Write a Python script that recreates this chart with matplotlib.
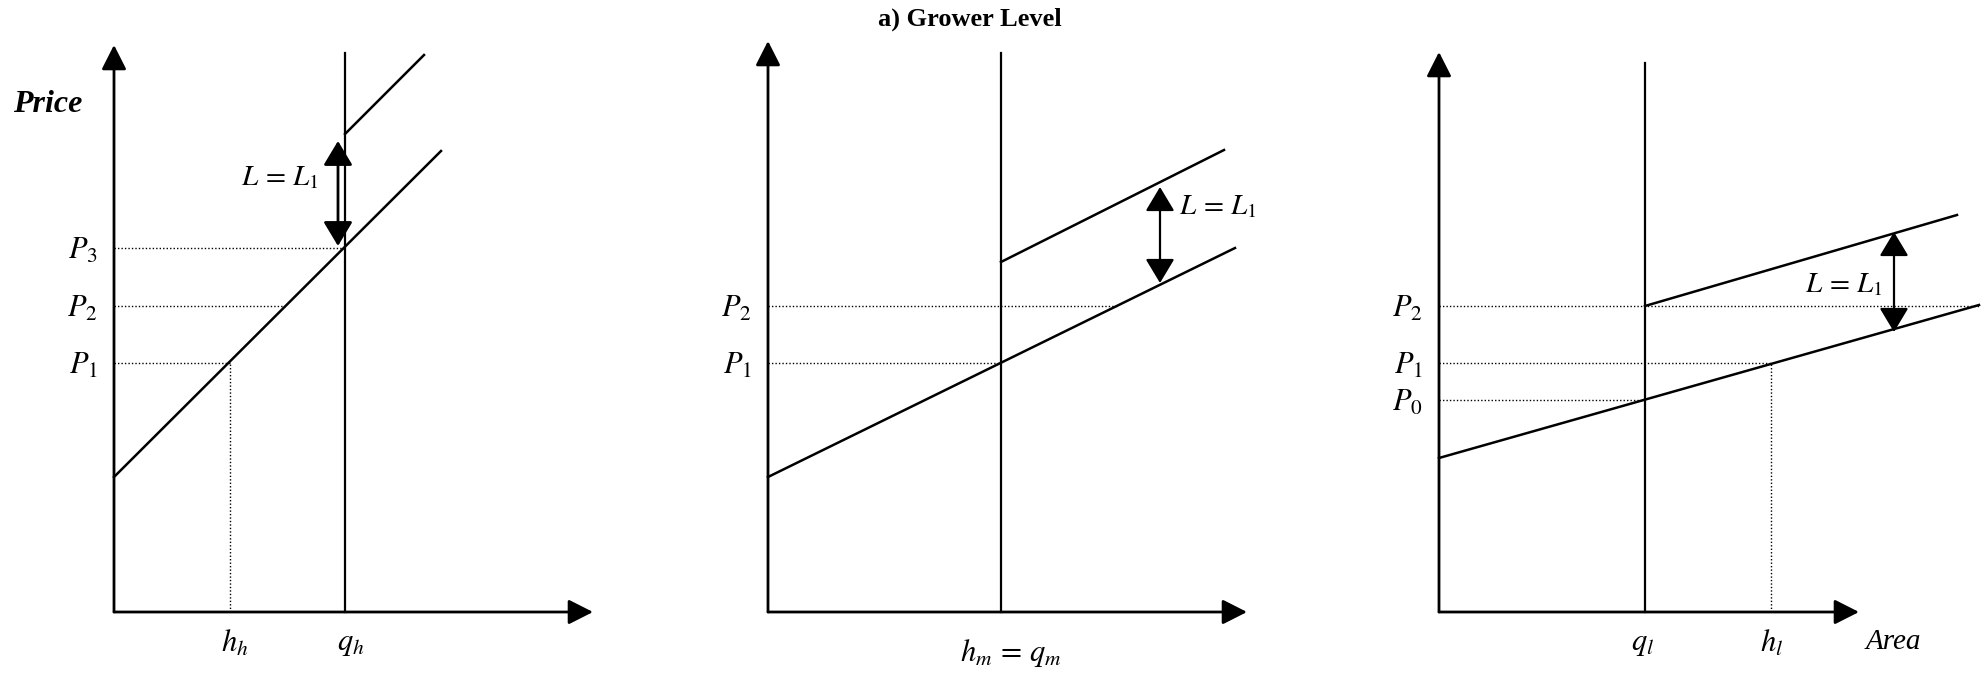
import matplotlib
matplotlib.use("Agg")
import matplotlib.pyplot as plt

plt.rcParams['font.family'] = ['Liberation Serif', 'DejaVu Serif']
plt.rcParams['mathtext.fontset'] = 'stix'

# --- diagram values (per panel: high, medium, low quota regime) ---
# axis extents
axis_xmax = [479, 479, 420]
axis_ymax = [567, 571, 560]

# supply curve end points
supply_x = [[0, 327], [0, 467], [0, 540]]
supply_y = [[135, 461], [135, 364], [154, 307]]

# supply + levy curve (starts at the quota)
levy_x = [[231, 310], [233, 456], [206, 518]]
levy_y = [[478, 557], [350, 462], [306, 397]]

# quota line
quota_x = [231, 233, 206]
quota_top = [559, 559, 549]

# price levels: (label, price, where the dotted line stops)
price_lines = [
    [(r'$P_1$', 249, 116), (r'$P_2$', 306, 171), (r'$P_3$', 364, 231)],
    [(r'$P_1$', 249, 233), (r'$P_2$', 306, 349)],
    [(r'$P_0$', 212, 206), (r'$P_1$', 249, 332), (r'$P_2$', 306, 540)],
]
# dotted drop lines to the quantity axis: (x, price)
drop_lines = [[(116, 249)], [], [(332, 249)]]

# levy arrow
levy_arrow_x = [224, 392, 455]
levy_arrow_lo = [366, 329, 280]
levy_arrow_hi = [471, 425, 380]

# quantity labels: (text, x)
x_labels = [
    [(r'$h_h$', 121), (r'$q_h$', 237)],
    [(r'$h_m\, =\, q_m$', 243)],
    [(r'$q_l$', 204), (r'$h_l$', 333)],
]

# --- layout (pixels) ---
W, H = 1988, 682
origin_x = [114, 768, 1439]
origin_y = 612
label_pos = [(166, 434), (450, 405), (405, 327)]
label_dy = [-32, -41, -32]

fig = plt.figure(figsize=(W / 100, H / 100), dpi=100)

for i in range(3):
    ax = fig.add_axes([origin_x[i] / W, (H - origin_y) / H,
                       axis_xmax[i] / W, axis_ymax[i] / H])
    ax.set_xlim(0, axis_xmax[i])
    ax.set_ylim(0, axis_ymax[i])
    ax.set_axis_off()

    # axes with arrow heads
    arrow_kw = dict(arrowstyle='-|>,head_length=0.75,head_width=0.38',
                    color='black', lw=2, mutation_scale=20,
                    shrinkA=0, shrinkB=0)
    ax.annotate('', xy=(axis_xmax[i], 0), xytext=(0, 0),
                arrowprops=arrow_kw, annotation_clip=False)
    ax.annotate('', xy=(0, axis_ymax[i]), xytext=(0, 0),
                arrowprops=arrow_kw, annotation_clip=False)

    # quota line
    ax.plot([quota_x[i], quota_x[i]], [0, quota_top[i]], color='black',
            lw=1.6, clip_on=False)
    # curves
    ax.plot(supply_x[i], supply_y[i], color='black', lw=1.8, clip_on=False)
    ax.plot(levy_x[i], levy_y[i], color='black', lw=1.8, clip_on=False)

    # dotted price lines + labels
    for lab, p, xe in price_lines[i]:
        ax.plot([0, xe], [p, p], color='black', lw=1, ls=(0, (1, 1.5)),
                clip_on=False)
        ax.text(-16, p - 3, lab, ha='right', va='center', fontsize=22)
    for xd, p in drop_lines[i]:
        ax.plot([xd, xd], [0, p], color='black', lw=1, ls=(0, (1, 1.5)),
                clip_on=False)

    # levy arrow
    ax.annotate('', xy=(levy_arrow_x[i], levy_arrow_hi[i]),
                xytext=(levy_arrow_x[i], levy_arrow_lo[i]),
                arrowprops=dict(arrowstyle='<|-|>,head_length=0.75,head_width=0.45',
                                color='black', lw=2 if i == 0 else 1.6,
                                mutation_scale=20, shrinkA=0, shrinkB=0),
                annotation_clip=False)
    lx, ly = label_pos[i]
    ax.text(lx, ly, r'$L\, =\, L_1$', ha='center', va='center', fontsize=21)

    for lab, xl in x_labels[i]:
        ax.text(xl, label_dy[i], lab, ha='center', va='center', fontsize=22)

# axis titles
fig.axes[0].text(-101, 508, 'Price', ha='left', va='center', fontsize=23,
                 fontweight='bold', fontstyle='italic')
fig.axes[2].text(427, -30, 'Area', ha='left', va='center', fontsize=21,
                 fontstyle='italic')

fig.text(970 / W, 1 - 19 / H, 'a) Grower Level', ha='center', va='center',
         fontsize=19, fontweight='bold')

fig.savefig('out.png', dpi=100)
